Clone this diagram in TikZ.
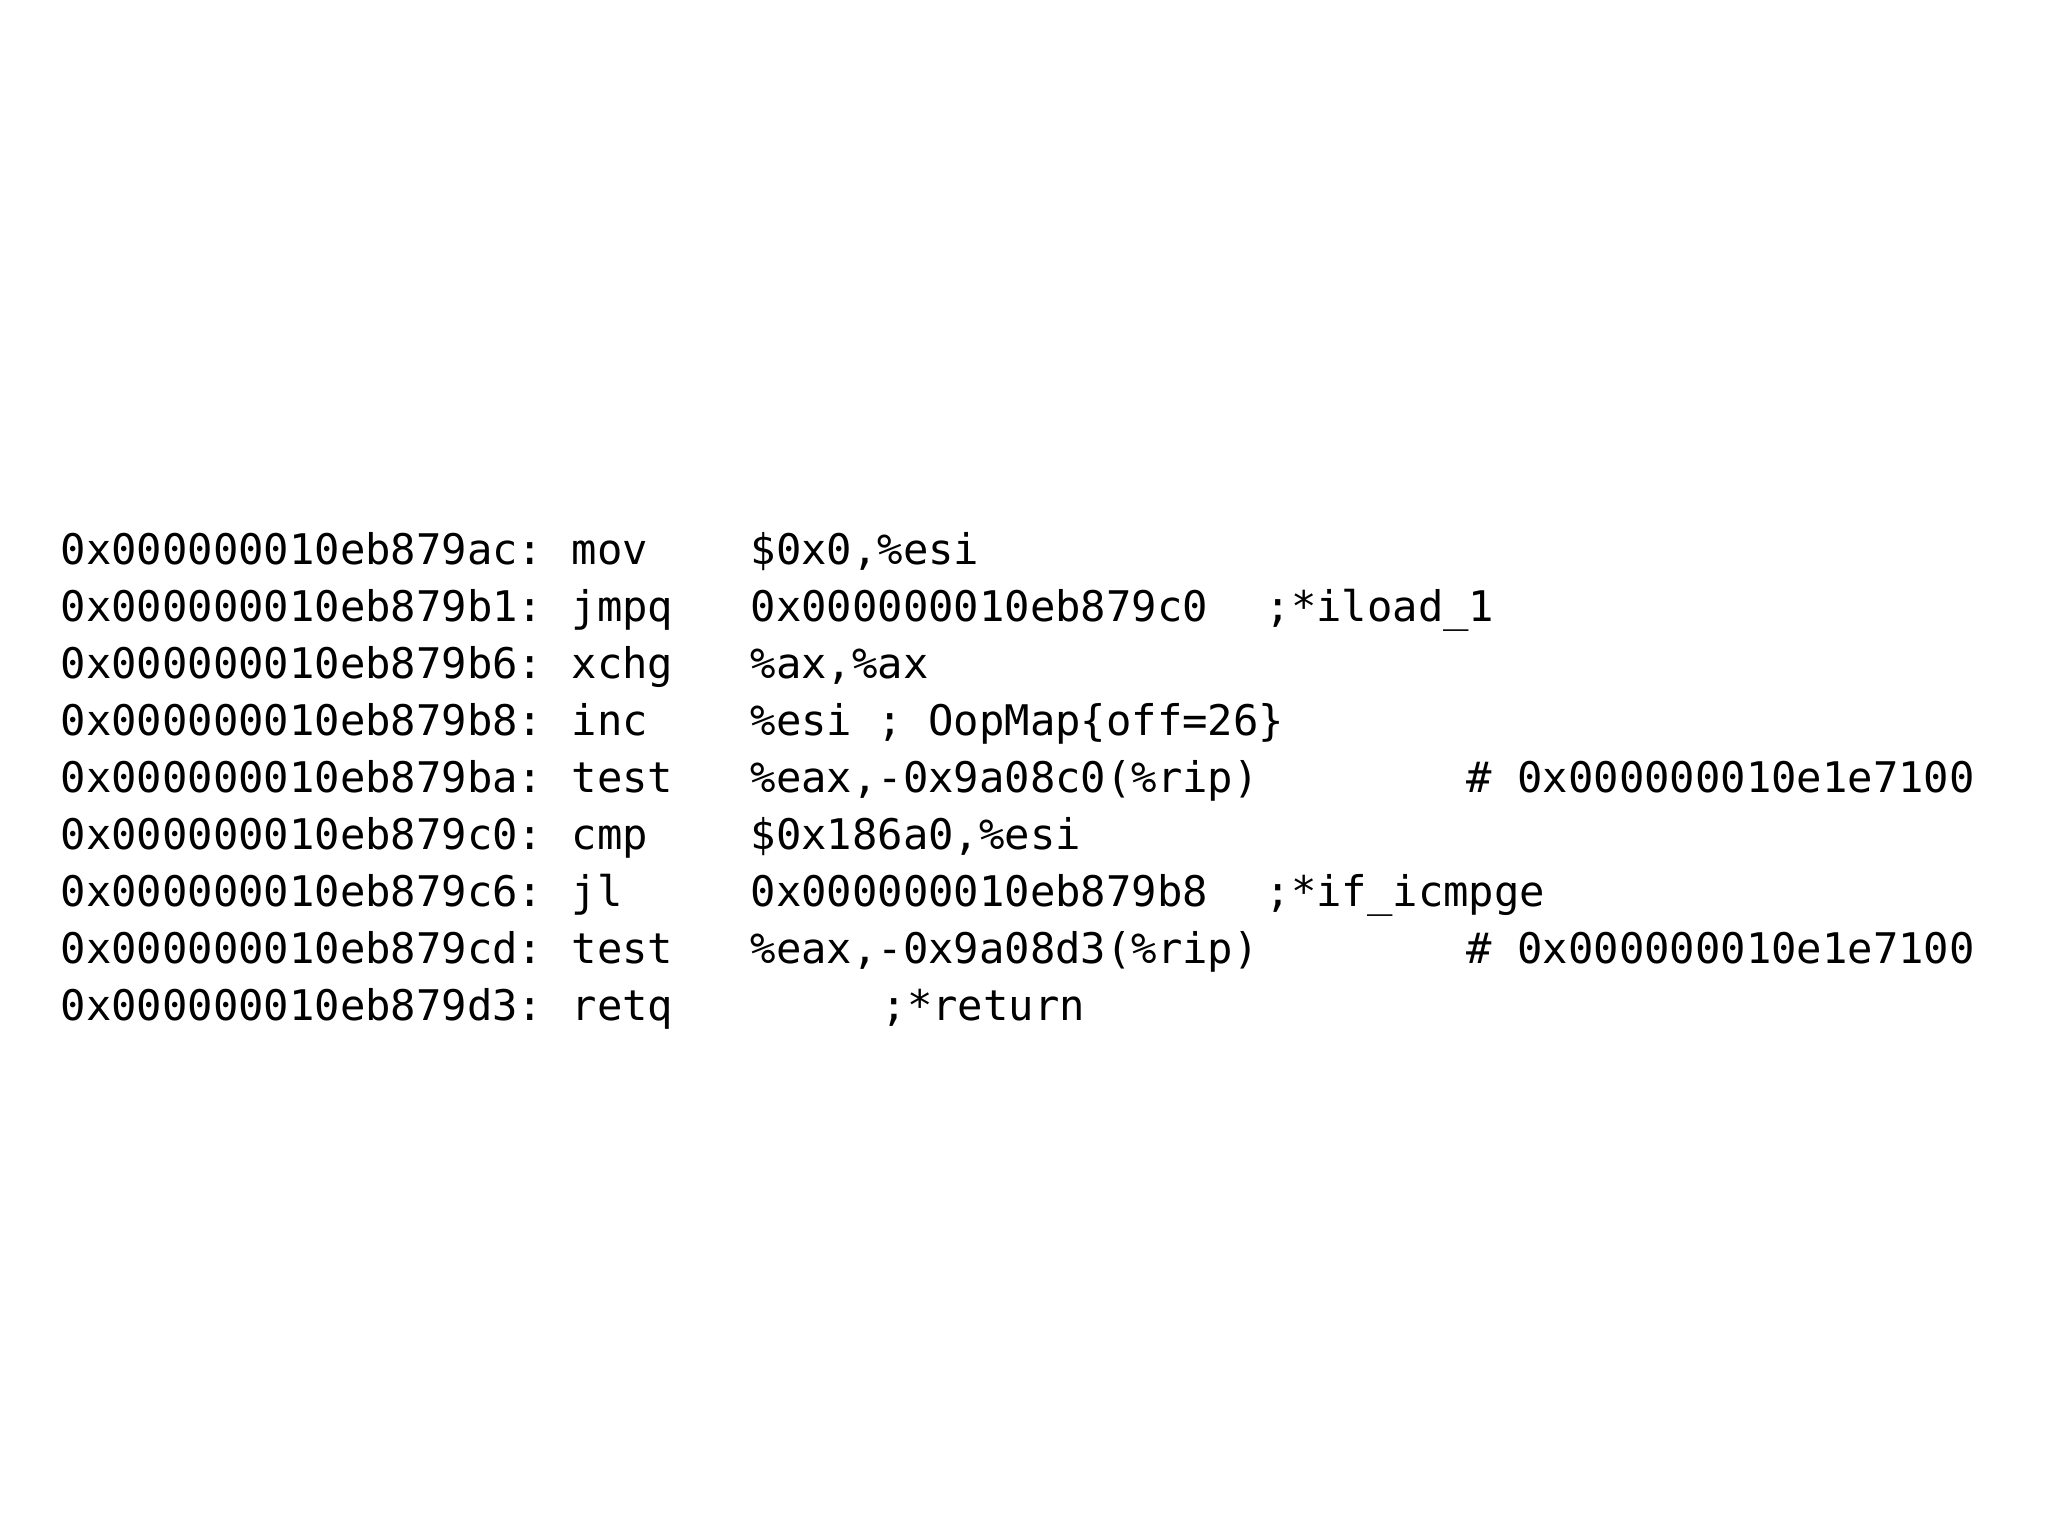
\documentclass[tikz,border=0pt]{standalone}
\usepackage{fontspec}
\setmonofont{DejaVu Sans Mono}
\begin{document}
\begin{tikzpicture}[x=0.01cm,y=-0.01cm,
  code/.style={anchor=base west,inner sep=0pt,font=\ttfamily\fontsize{12}{14}\selectfont}]
\useasboundingbox[fill=white] (0,0) rectangle (2048,1536);
\def\ya{564}
\foreach \i/\addr/\mn/\op in {
 0/ac/mov/{\$0x0,\%esi},
 1/b1/jmpq/{0x000000010eb879c0},
 2/b6/xchg/{\%ax,\%ax},
 3/b8/inc/{\%esi ; OopMap\{off=26\}},
 4/ba/test/{\%eax,-0x9a08c0(\%rip)},
 5/c0/cmp/{\$0x186a0,\%esi},
 6/c6/jl/{0x000000010eb879b8},
 7/cd/test/{\%eax,-0x9a08d3(\%rip)},
 8/d3/retq/{}}{
  \node[code] (a\i) at (60,564+57*\i) {0x000000010eb879\addr:};
  \node[code] (m\i) at (571,564+57*\i) {\mn};
  \node[code] (o\i) at (750,564+57*\i) {\op};
}
\node[code] (c1) at (1265,564+57*1) {;*iload\_1};
\node[code] (c6) at (1265,564+57*6) {;*if\_icmpge};
\node[code] (c8) at (881,564+57*8) {;*return};
\node[code] (h4) at (1466,564+57*4) {\# 0x000000010e1e7100};
\node[code] (h7) at (1466,564+57*7) {\# 0x000000010e1e7100};
\end{tikzpicture}
\end{document}
